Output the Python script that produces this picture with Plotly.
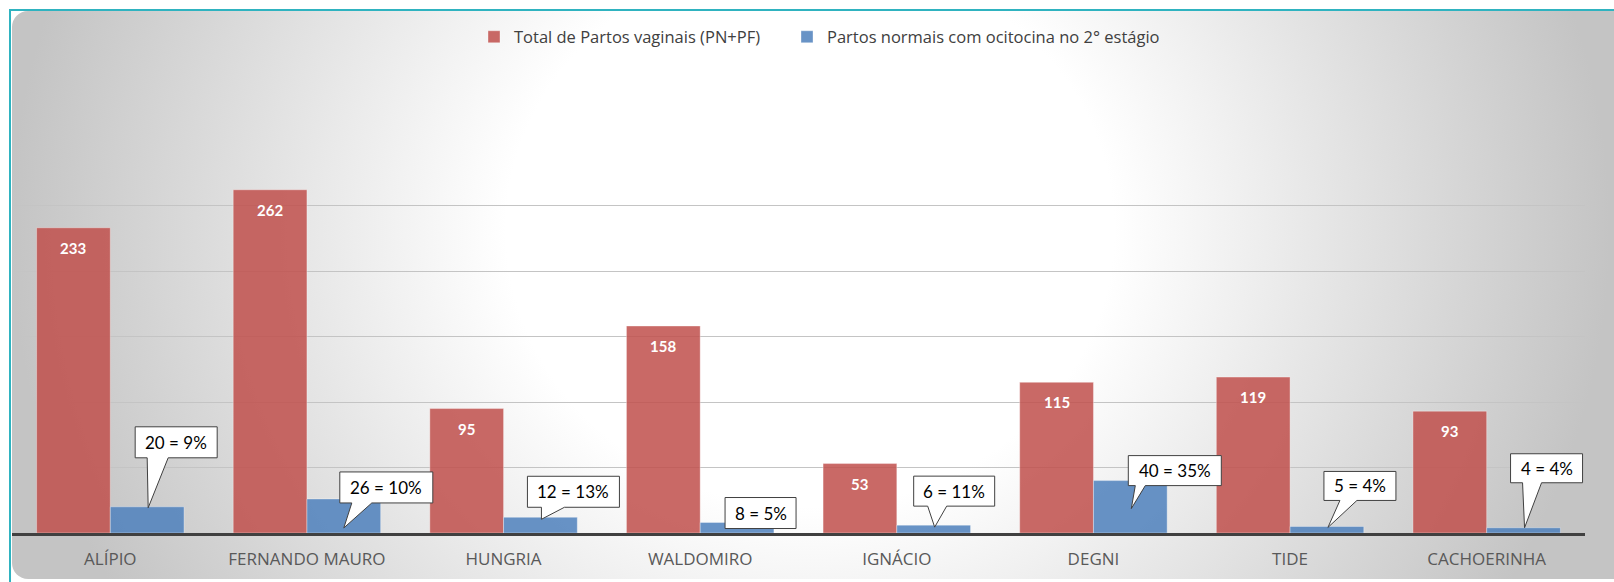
import base64
import plotly.graph_objects as go

# Data
categories = ["ALÍPIO", "FERNANDO MAURO", "HUNGRIA", "WALDOMIRO",
              "IGNÁCIO", "DEGNI", "TIDE", "CACHOERINHA"]
total_vaginais = [233, 262, 95, 158, 53, 115, 119, 93]
ocitocina = [20, 26, 12, 8, 6, 40, 5, 4]
ocitocina_pct = [9, 10, 13, 5, 11, 35, 4, 4]

name_total = "Total de Partos vaginais (PN+PF)"
name_ocit = "Partos normais com ocitocina no 2° estágio"

FONT = "Lato"
W, H = 1614, 582
M_L, M_R, M_T, M_B = 12, 29, 140, 49
PW, PH = W - M_L - M_R, H - M_T - M_B

# callout geometry in pixels, relative to top-centre of the blue bar (screen y down)
# (box_x0, box_x1, box_top, box_bottom, wedge_x0, wedge_x1, tip_x, tip_y)
callouts = [
    (-12, 70, -80, -49, 0, 21, 1, 1),
    (-4, 89, -27, 4, 8, 28, 0, 29),
    (-13, 79, -41, -10, 1, 24, 1, 2),
    (-12, 59, -25, 6, None, None, None, None),
    (-20, 61, -49, -19, -6, 13, 1, 2),
    (-2, 91, -25, 5, 5, 15, 1, 28),
    (-3, 69, -55, -26, 13, 30, 1, 1),
    (-13, 59, -74, -45, -1, 18, 1, 0),
]

# background: rounded panel with soft radial gradient + teal frame
svg = f"""<svg xmlns="http://www.w3.org/2000/svg" width="{W}" height="{H}" viewBox="0 0 {W} {H}" preserveAspectRatio="none">
<defs><radialGradient id="g" gradientUnits="userSpaceOnUse" cx="810" cy="230" r="800"
 gradientTransform="translate(810 230) scale(1 0.91) translate(-810 -230)">
<stop offset="0" stop-color="#ffffff"/><stop offset="0.38" stop-color="#ffffff"/>
<stop offset="1" stop-color="#c4c4c4"/>
</radialGradient></defs>
<rect x="12" y="11" width="1700" height="568" rx="16" ry="16" fill="url(#g)"/>
<rect x="10" y="10" width="2000" height="2000" fill="none" stroke="#2fb3c0" stroke-width="2"/>
</svg>"""
bg_src = "data:image/svg+xml;base64," + base64.b64encode(svg.encode()).decode()

fig = go.Figure()
fig.add_trace(go.Bar(x=categories, y=total_vaginais, name=name_total,
                     marker=dict(color="rgba(192,80,77,0.86)",
                                 line=dict(color="rgba(255,255,255,0.35)", width=1)),
                     hoverinfo="y", legend="legend"))
fig.add_trace(go.Bar(x=categories, y=ocitocina, name=name_ocit,
                     marker=dict(color="rgba(79,129,189,0.86)",
                                 line=dict(color="rgba(255,255,255,0.35)", width=1)),
                     hoverinfo="y", legend="legend2"))

# value labels inside the red bars
for i, v in enumerate(total_vaginais):
    fig.add_annotation(x=i - 0.1875, y=v, text=f"<b>{v}</b>", showarrow=False,
                       yshift=-20, font=dict(family=FONT, size=15, color="white"))

# callouts for the blue bars
for i, (v, p) in enumerate(zip(ocitocina, ocitocina_pct)):
    bx0, bx1, bt, bb, w0, w1, tx, ty = callouts[i]
    if w0 is None:
        pts = [(bx0, bt), (bx1, bt), (bx1, bb), (bx0, bb)]
    else:
        pts = [(bx0, bt), (bx1, bt), (bx1, bb), (w1, bb), (tx, ty), (w0, bb), (bx0, bb)]
    path = "M " + " L ".join(f"{px},{-py}" for px, py in pts) + " Z"
    fig.add_shape(type="path", path=path, xref="x", yref="y",
                  xsizemode="pixel", ysizemode="pixel",
                  xanchor=i + 0.1875, yanchor=v,
                  fillcolor="white", line=dict(color="#404040", width=1))
    fig.add_annotation(x=i + 0.1875, y=v, text=f"{v} = {p}%", showarrow=False,
                       xshift=(bx0 + bx1) / 2, yshift=-(bt + bb) / 2,
                       font=dict(family=FONT, size=17, color="black"))

fig.add_layout_image(source=bg_src, xref="paper", yref="paper",
                     x=-M_L / PW, y=1 + M_T / PH, sizex=W / PW, sizey=H / PH,
                     xanchor="left", yanchor="top", sizing="stretch", layer="below")

legend_style = dict(orientation="h", xanchor="left", y=1.262, yanchor="middle",
                    font=dict(family="Open Sans", size=16.5, color="#404040"),
                    bgcolor="rgba(0,0,0,0)", itemclick=False)

fig.update_layout(
    width=W, height=H,
    margin=dict(l=M_L, r=M_R, t=M_T, b=M_B),
    paper_bgcolor="white", plot_bgcolor="rgba(0,0,0,0)",
    barmode="group", bargap=0.25, bargroupgap=0,
    font=dict(family=FONT, color="#404040"),
    showlegend=True,
    legend=dict(x=(474 - M_L) / PW, **legend_style),
    legend2=dict(x=(787 - M_L) / PW, **legend_style),
    xaxis=dict(showline=True, linecolor="#404040", linewidth=2.5, showgrid=False,
               ticks="outside", ticklen=9, tickcolor="rgba(0,0,0,0)",
               tickfont=dict(family="Open Sans", size=17, color="#595959")),
    yaxis=dict(range=[0, 300], dtick=50, showticklabels=False, zeroline=False,
               showgrid=True, gridcolor="#c4c4c4", gridwidth=1),
)

fig.write_html("out.html", config={"displayModeBar": False},
               post_script="document.body.style.margin='0';")
